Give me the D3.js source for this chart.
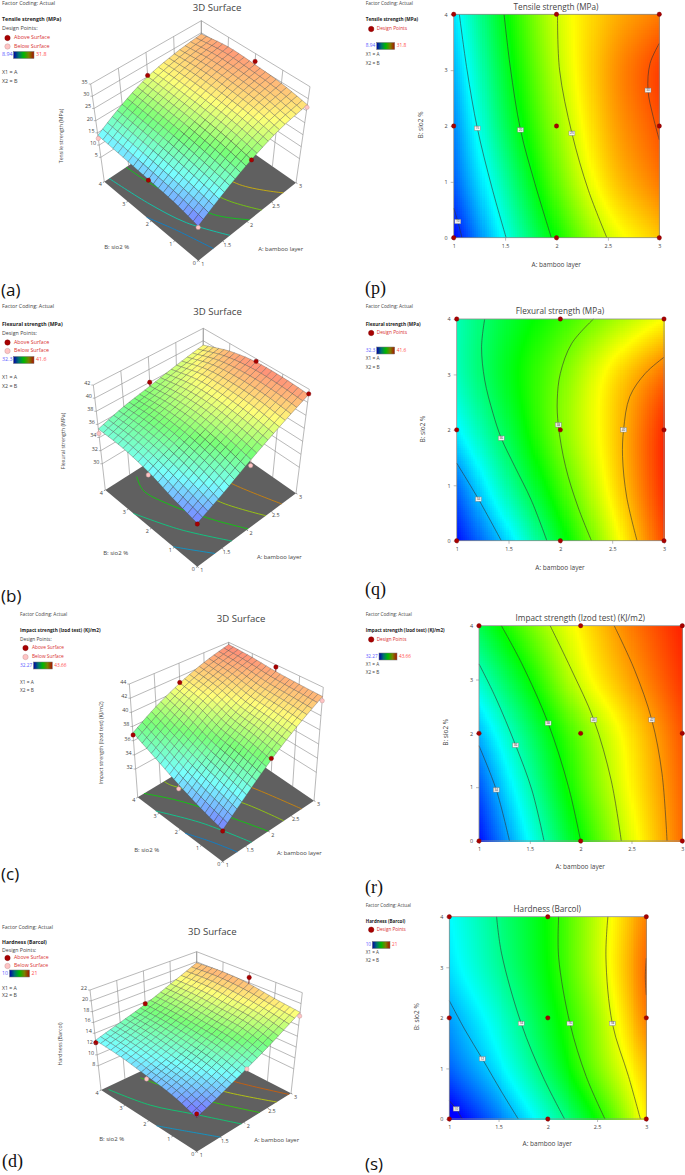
<!DOCTYPE html>
<html>
<head>
<meta charset="utf-8">
<script src="https://cdn.jsdelivr.net/npm/d3@7"></script>
<style>
  body { margin: 0; background: #fff; }
  svg { display: block; }
  text { font-family: "Open Sans", sans-serif; fill: #444; }
</style>
</head>
<body>
<svg id="fig" width="685" height="1175"></svg>
<script>
// factor levels of the response grids and the axis ticks
const aLevels = [1, 1.5, 2, 2.5, 3];
const bLevels = [0, 1, 2, 3, 4];
const aTicks = [1, 1.5, 2, 2.5, 3];
const bTicks = [0, 1, 2, 3, 4];
const designA = [1, 2, 3];
const designB = [0, 2, 4];

// response, one row per B level
const tensileValues = [
  [9, 15, 20.5, 25, 27.5],
  [11, 16.7, 22.5, 27, 29.5],
  [12, 18.3, 23.7, 28, 30.5],
  [13, 19.3, 24.5, 28.4, 31],
  [14, 20.1, 25, 27.8, 29.5]
];
const flexuralValues = [
  [32.4, 34.3, 36.6, 38.9, 41.2],
  [33.3, 35.5, 37.5, 39.5, 41.5],
  [34.5, 36.3, 38.1, 39.7, 41.5],
  [35.2, 36.7, 38, 39.5, 40.8],
  [35.3, 36.5, 37.4, 38.4, 39.3]
];
const impactValues = [
  [32.4, 35.2, 38, 40.5, 42.7],
  [33.2, 36, 38.7, 40.9, 42.8],
  [34.3, 36.8, 39.2, 41.2, 43],
  [35.7, 38, 40.4, 42, 43.4],
  [37.1, 39.2, 41, 42.5, 43.66]
];
const hardnessValues = [
  [9.6, 11.3, 13.3, 15.6, 18.4],
  [11, 12.5, 14.5, 16.8, 19],
  [11.7, 13.2, 15.1, 17.2, 19.8],
  [12.4, 13.85, 15.5, 17.6, 20.1],
  [12.7, 14.1, 15.6, 17.6, 19.8]
];

// contour lines of the 2D plots: level, [A, B] points, index of the point with the label
const tensileContours = [
  [10, [[1, .53], [1.04, .29], [1.08, 0]], 1],
  [15, [[1.055, 4], [1.13, 3], [1.23, 1.96], [1.37, .91], [1.51, 0]], 2],
  [20, [[1.49, 4], [1.55, 3.06], [1.65, 1.93], [1.79, .97], [1.95, 0]], 2],
  [25, [[2.01, 4], [2.03, 3], [2.15, 1.87], [2.31, .85], [2.49, 0]], 2],
  [30, [[3, 3.48], [2.91, 3.12], [2.89, 2.64], [2.94, 2.17], [3, 1.75]], 2]
];
const flexuralContours = [
  [34, [[1, 1.4], [1.21, .75], [1.43, 0]], 1],
  [36, [[1.27, 4], [1.24, 3.5], [1.27, 2.9], [1.35, 2.3], [1.43, 1.85], [1.56, 1.34], [1.72, .73], [1.87, 0]], 4],
  [38, [[2.32, 4], [2.11, 3.56], [2, 3.02], [1.97, 2.54], [1.98, 2.09], [2.05, 1.34], [2.17, .61], [2.3, 0]], 4],
  [40, [[3, 3.31], [2.82, 3.02], [2.67, 2.6], [2.61, 2], [2.6, 1.52], [2.64, .79], [2.74, 0]], 3]
];
const impactContours = [
  [34, [[1, 1.77], [1.17, .95], [1.3, 0]], 1],
  [36, [[1, 3.29], [1.16, 2.68], [1.36, 1.78], [1.52, .95], [1.64, 0]], 2],
  [38, [[1.22, 4], [1.42, 3.3], [1.68, 2.19], [1.88, 1.01], [2, 0]], 2],
  [40, [[1.7, 4], [1.91, 3.18], [2.13, 2.25], [2.3, 1.13], [2.4, 0]], 2],
  [42, [[2.33, 4], [2.53, 3.18], [2.7, 2.25], [2.8, 1.26], [2.85, 0]], 2]
];
const hardnessContours = [
  [10, [[1, .36], [1.07, .2], [1.13, 0]], 1],
  [12, [[1, 2.34], [1.16, 1.76], [1.335, 1.19], [1.53, .54], [1.7, 0]], 2],
  [14, [[1.48, 4], [1.53, 3.28], [1.73, 1.89], [1.95, .84], [2.17, 0]], 2],
  [16, [[2.11, 4], [2.11, 3.2], [2.225, 1.89], [2.39, .84], [2.58, 0]], 2],
  [18, [[2.61, 4], [2.59, 3.2], [2.655, 1.89], [2.82, .84], [2.94, 0]], 2],
  [20, [[3, 3.18], [2.99, 2.81], [3, 2.45]], -1]
];

// coloured contours on the floor of the 3D plots: level, [A, B] points
const tensileFloor = [
  [12.5, [[1, 2.2], [1.156, 1.25], [1.31, 0]]],
  [15.5, [[1.1, 4], [1.21, 2.49], [1.36, 1.25], [1.65, 0]]],
  [20, [[1.45, 4], [1.5, 3], [1.75, .92], [2.05, 0]]],
  [23.5, [[1.9, 3], [2.08, 1.03], [2.3, 0]]],
  [27, [[2.3, 3], [2.42, 1.19], [2.74, 0]]]
];
const flexuralFloor = [
  [34, [[1, 1.04], [1.17, .55], [1.36, 0]]],
  [35.5, [[1, 2.78], [1.3, 1.4], [1.7, 0]]],
  [37, [[1.55, 3.8], [1.43, 3.27], [1.51, 2.42], [1.79, 1], [2.03, 0]]],
  [38.7, [[2, 2.5], [2.12, 1.28], [2.39, 0]]],
  [40.3, [[2.4, 2.6], [2.51, 1.46], [2.71, 0]]]
];
const impactFloor = [
  [34, [[1, 1.77], [1.17, .95], [1.32, 0]]],
  [36, [[1, 3.15], [1.36, 1.75], [1.635, 0]]],
  [38, [[1.14, 4], [1.42, 3.1], [1.68, 1.9], [2, 0]]],
  [40, [[1.58, 4], [1.6, 3.73], [1.9, 2.6], [2.16, 1.53], [2.34, 0]]],
  [42, [[2.3, 3.2], [2.53, 1.76], [2.73, 0]]]
];
const hardnessFloor = [
  [12, [[1, 1.68], [1.24, .9], [1.5, 0]]],
  [14, [[1.1, 3.88], [1.3, 2.53], [1.62, 1.36], [1.95, 0]]],
  [16, [[1.7, 3.75], [1.85, 2.6], [2.05, 1.37], [2.34, 0]]],
  [18, [[2.2, 2.6], [2.38, 1.46], [2.7, 0]]],
  [20, [[2.55, 2.6], [2.68, 1.58], [2.96, 0]]]
];

// design points shown in the 3D plots: A, B, response, above the surface or not
const tensilePoints = [[2, 4, 25.5, 1], [3, 2, 31.8, 1], [3, 0, 26.4, 0], [1, 4, 12.7, 0], [2, 0, 20.4, 1], [1, 2, 11.7, 1], [1, 0, 8.5, 0]];
const flexuralPoints = [[2, 4, 38, 1], [3, 2, 41.6, 1], [3, 0, 41.3, 1], [1, 4, 34.6, 0], [1, 2, 34, 0], [2, 0, 35.7, 0], [1, 0, 32.3, 1]];
const impactPoints = [[2, 4, 41.1, 1], [3, 2, 43.66, 1], [3, 0, 42.1, 0], [1, 4, 36.8, 1], [1, 2, 33.7, 0], [2, 0, 38.2, 1], [1, 0, 32.27, 1]];
const hardnessPoints = [[2, 4, 15.7, 1], [3, 2, 21, 1], [3, 0, 17.7, 0], [1, 4, 12.25, 1], [1, 2, 11.1, 0], [2, 0, 13.2, 0], [1, 0, 10.25, 1]];

// z axis ticks of the 3D plots
const tensileZTicks = [5, 10, 15, 20, 25, 30, 35];
const flexuralZTicks = [30, 32, 34, 36, 38, 40, 42];
const impactZTicks = [32, 34, 36, 38, 40, 42, 44];
const hardnessZTicks = [8, 10, 12, 14, 16, 18, 20, 22];

const svg = d3.select("#fig");
const gradId = "legendRamp";

const rainbow = ["#0000ff", "#00ffff", "#00ff00", "#ffff00", "#ff2000"];

svg.append("defs").append("linearGradient").attr("id", gradId)
  .selectAll("stop")
  .data(["#0000a8", "#007070", "#00b800", "#7a8000", "#a81000"])
  .enter().append("stop")
  .attr("offset", (d, i) => i * 25 + "%")
  .attr("stop-color", d => d);

function colorFor(lo, hi) {
  let t = d3.scaleLinear().domain([lo, hi]).range([0, 4]).clamp(true);
  let c = d3.scaleLinear().domain([0, 1, 2, 3, 4]).range(rainbow).interpolate(d3.interpolateRgb);
  return v => c(t(v));
}

// smooth reading of the grid between its rows and columns
function catmull(p0, p1, p2, p3, t) {
  return 0.5 * (2 * p1 + (p2 - p0) * t + (2 * p0 - 5 * p1 + 4 * p2 - p3) * t * t + (3 * p1 - p0 - 3 * p2 + p3) * t * t * t);
}
function along(vals, x) {
  let n = vals.length;
  let i = Math.min(Math.floor(x), n - 2);
  let at = k => k < 0 ? 2 * vals[0] - vals[1] : (k >= n ? 2 * vals[n - 1] - vals[n - 2] : vals[k]);
  return catmull(at(i - 1), at(i), at(i + 1), at(i + 2), x - i);
}
function surfaceAt(grid, a, b) {
  let ax = d3.scaleLinear().domain(d3.extent(aLevels)).range([0, aLevels.length - 1])(a);
  let bx = d3.scaleLinear().domain(d3.extent(bLevels)).range([0, bLevels.length - 1])(b);
  return along(grid.map(row => along(row, ax)), bx);
}

function label(g, x, y, txt, size, opts) {
  opts = opts || {};
  let t = g.append("text")
    .attr("x", x).attr("y", y)
    .attr("font-size", size)
    .attr("dominant-baseline", "middle")
    .attr("text-anchor", opts.anchor || "start")
    .text(txt);
  if (opts.weight) t.attr("font-weight", opts.weight);
  if (opts.fill) t.style("fill", opts.fill);
  if (opts.rotate) t.attr("transform", "rotate(-90 " + x + " " + y + ")");
  if (opts.family) t.style("font-family", opts.family);
  return t;
}

function marker(g, x, y, above, r) {
  g.append("circle")
    .attr("cx", x).attr("cy", y).attr("r", r)
    .attr("fill", above ? "#a80000" : "#ffc4c4")
    .attr("stroke", above ? "#7a0000" : "#b89090")
    .attr("stroke-width", 0.4);
}

function drawLegend(g, c) {
  let l = c.legend;
  let fs = l.fs;
  label(g, l.x, l.y[0], "Factor Coding: Actual", fs);
  label(g, l.x, l.y[1], c.name, fs - 0.1, {weight: 700, fill: "#222"});
  if (c.is3d) {
    label(g, l.x, l.y[2], "Design Points:", fs);
    marker(g, l.x + 5.5, l.y[3], true, 2.7);
    label(g, l.x + 12, l.y[3], "Above Surface", fs, {fill: "#d83030"});
    marker(g, l.x + 5.5, l.y[4], false, 2.7);
    label(g, l.x + 12, l.y[4], "Below Surface", fs, {fill: "#d83030"});
  } else {
    marker(g, l.x + 5.5, l.y[2], true, 2.7);
    label(g, l.x + 11, l.y[2], "Design Points", fs, {fill: "#d83030"});
  }
  let barY = c.is3d ? l.y[5] : l.y[3];
  g.append("rect")
    .attr("x", l.barX).attr("y", barY - 3.5)
    .attr("width", l.barW).attr("height", 7)
    .attr("fill", "url(#" + gradId + ")")
    .attr("stroke", "#777").attr("stroke-width", 0.5);
  label(g, l.x, barY, c.lowText, fs, {fill: "#5a5aff"});
  label(g, l.barX + l.barW + 2, barY, c.highText, fs, {fill: "#ff4a4a"});
  let xY = c.is3d ? l.y.slice(6) : l.y.slice(4);
  label(g, l.x, xY[0], "X1 = A", fs);
  label(g, l.x, xY[1], "X2 = B", fs);
}

function drawSurface(c) {
  let g = svg.append("g").attr("class", "surface3d");
  let k = c.corners;
  let uA = d3.scaleLinear().domain(d3.extent(aTicks)).range([0, 1]);
  let uB = d3.scaleLinear().domain(d3.extent(bTicks)).range([0, 1]);
  let uZ = d3.scaleLinear().domain(c.zRange).range([0, 1]);

  // trilinear placement between the eight corners of the box
  let project = (a, b, z) => {
    let u = uA(a), v = uB(b), w = uZ(z);
    return [0, 1].map(i => {
      let floor = (1 - u) * ((1 - v) * k.floorFront[i] + v * k.floorLeft[i]) + u * ((1 - v) * k.floorRight[i] + v * k.floorBack[i]);
      let top = (1 - u) * ((1 - v) * k.topFront[i] + v * k.topLeft[i]) + u * ((1 - v) * k.topRight[i] + v * k.topBack[i]);
      return floor * (1 - w) + top * w;
    });
  };
  let line = d3.line();
  let zLo = c.zRange[0], zHi = c.zRange[1];

  // back walls
  let walls = [];
  c.zTicks.forEach(z => walls.push([project(1, 4, z), project(3, 4, z), project(3, 0, z)]));
  aTicks.forEach(a => walls.push([project(a, 4, zLo), project(a, 4, zHi)]));
  bTicks.forEach(b => walls.push([project(3, b, zLo), project(3, b, zHi)]));
  g.selectAll("path.wall").data(walls).enter().append("path")
    .attr("class", "wall").attr("d", line)
    .attr("fill", "none").attr("stroke", "#8a8a8a").attr("stroke-width", 0.6);

  // floor
  g.append("path")
    .attr("d", line([project(1, 0, zLo), project(3, 0, zLo), project(3, 4, zLo), project(1, 4, zLo)]) + "Z")
    .attr("fill", "#606060");

  let col = colorFor(c.lo, c.hi);
  let floorLine = d3.line().curve(d3.curveCatmullRom);
  g.selectAll("path.floorLine").data(c.floor).enter().append("path")
    .attr("class", "floorLine")
    .attr("d", d => floorLine(d[1].map(p => project(p[0], p[1], zLo))))
    .attr("fill", "none")
    .attr("stroke", d => d3.color(col(d[0])).darker(0.45))
    .attr("stroke-width", 0.8);

  // mesh, back cells first
  let steps = d3.range(21);
  let sa = d3.scaleLinear().domain([0, 20]).range(d3.extent(aTicks));
  let sb = d3.scaleLinear().domain([0, 20]).range(d3.extent(bTicks));
  let cells = [];
  steps.slice(0, 20).forEach(i => steps.slice(0, 20).forEach(j => cells.push([i, j])));
  cells.sort((p, q) => (q[0] + q[1]) - (p[0] + p[1]));
  let corner = (i, j) => project(sa(i), sb(j), surfaceAt(c.values, sa(i), sb(j)));
  g.selectAll("path.cell").data(cells).enter().append("path")
    .attr("class", "cell")
    .attr("d", d => line([corner(d[0], d[1]), corner(d[0] + 1, d[1]), corner(d[0] + 1, d[1] + 1), corner(d[0], d[1] + 1)]) + "Z")
    .attr("fill", d => d3.interpolateRgb(col(surfaceAt(c.values, sa(d[0] + .5), sb(d[1] + .5))), "#ffffff")(0.47))
    .attr("stroke", "#3c3c3c")
    .attr("stroke-opacity", 0.6)
    .attr("stroke-width", 0.5);

  // design points with their stems
  c.points.forEach(p => {
    let at = project(p[0], p[1], p[2]);
    let on = project(p[0], p[1], surfaceAt(c.values, p[0], p[1]));
    g.append("path").attr("d", line([at, on]))
      .attr("stroke", p[3] ? "#7a0000" : "#d8a0a0").attr("stroke-width", 0.6);
    marker(g, at[0], at[1], p[3], 2.2);
  });

  // ticks and tick labels
  c.zTicks.forEach(z => {
    let p = project(1, 4, z);
    g.append("path").attr("d", line([[p[0] - 2, p[1]], p])).attr("stroke", "#777").attr("stroke-width", 0.5);
    label(g, p[0] - 3, p[1] - 1.5, z, 5.4, {anchor: "end"});
  });
  bTicks.forEach(b => {
    let p = project(1, b, zLo);
    label(g, p[0] - 4, p[1] + 3.3, b, 5.4, {anchor: "middle"});
    g.append("path").attr("d", line([[p[0] - 1.4, p[1] + .8], p])).attr("stroke", "#333").attr("stroke-width", 0.5);
  });
  aTicks.forEach(a => {
    let p = project(a, 0, zLo);
    label(g, p[0] + 4.5, p[1] + 4, a, 5.4, {anchor: "middle"});
    g.append("path").attr("d", line([[p[0] + 1.4, p[1] + .8], p])).attr("stroke", "#333").attr("stroke-width", 0.5);
  });

  label(g, c.title[0], c.title[1], "3D Surface", 9.6, {anchor: "middle"});
  label(g, c.zLabel[0], c.zLabel[1], c.name, 5.25, {anchor: "middle", rotate: true});
  label(g, c.bLabel[0], c.bLabel[1], "B: sio2 %", 6, {anchor: "middle"});
  label(g, c.aLabel[0], c.aLabel[1], "A: bamboo layer", 5.9, {anchor: "middle"});
  drawLegend(g, c);
}

function drawContour(c) {
  let g = svg.append("g").attr("class", "contour2d");
  let x = d3.scaleLinear().domain(d3.extent(aTicks)).range(c.xRange);
  let y = d3.scaleLinear().domain(d3.extent(bTicks)).range(c.yRange);
  let col = colorFor(c.lo, c.hi);

  // heat map cells
  let n = 100;
  let cx = d3.scaleLinear().domain([0, n]).range(d3.extent(aTicks));
  let cy = d3.scaleLinear().domain([0, n]).range(d3.extent(bTicks));
  let cells = d3.cross(d3.range(n), d3.range(n));
  g.selectAll("rect.cell").data(cells).enter().append("rect")
    .attr("class", "cell")
    .attr("x", d => x(cx(d[0])))
    .attr("y", d => y(cy(d[1] + 1)))
    .attr("width", d => x(cx(d[0] + 1)) - x(cx(d[0])) + .5)
    .attr("height", d => y(cy(d[1])) - y(cy(d[1] + 1)) + .5)
    .attr("fill", d => col(surfaceAt(c.values, cx(d[0] + .5), cy(d[1] + .5))))
    .attr("shape-rendering", "crispEdges");

  let contourLine = d3.line().x(d => x(d[0])).y(d => y(d[1])).curve(d3.curveCatmullRom);
  g.selectAll("path.level").data(c.contours).enter().append("path")
    .attr("class", "level")
    .attr("d", d => contourLine(d[1]))
    .attr("fill", "none").attr("stroke", "#333").attr("stroke-width", 0.6);

  g.append("rect")
    .attr("x", c.xRange[0]).attr("y", c.yRange[1])
    .attr("width", c.xRange[1] - c.xRange[0]).attr("height", c.yRange[0] - c.yRange[1])
    .attr("fill", "none").attr("stroke", "#8c8c8c").attr("stroke-width", 0.8);

  let xAxis = d3.axisBottom(x).tickValues(aTicks).tickSize(3).tickFormat(d3.format(""));
  let yAxis = d3.axisLeft(y).tickValues(bTicks).tickSize(3).tickFormat(d3.format(""));
  let ax = g.append("g").attr("transform", "translate(0," + c.yRange[0] + ")").call(xAxis);
  let ay = g.append("g").attr("transform", "translate(" + c.xRange[0] + ",0)").call(yAxis);
  [ax, ay].forEach(s => {
    s.select(".domain").remove();
    s.selectAll("line").attr("stroke", "#777").attr("stroke-width", 0.5);
    s.selectAll("text").attr("font-size", 5.4).attr("font-family", null);
  });

  // value tags on the contours
  c.contours.filter(d => d[2] >= 0).forEach(d => {
    let p = d[1][d[2]];
    let tag = g.append("g").attr("transform", "translate(" + x(p[0]) + "," + y(p[1]) + ")");
    tag.append("rect").attr("x", -3).attr("y", -2.2).attr("width", 6).attr("height", 4.4)
      .attr("fill", "#f2f2f2").attr("stroke", "#777").attr("stroke-width", 0.4);
    label(tag, 0, 0.1, d[0], 3.2, {anchor: "middle", fill: "#333"});
  });

  // design points
  let pts = d3.cross(designA, designB);
  pts.forEach(p => marker(g, x(p[0]), y(p[1]), true, 2.2));

  label(g, c.title[0], c.title[1], c.name, 8.2, {anchor: "middle"});
  label(g, c.aLabel[0], c.aLabel[1], "A: bamboo layer", 6.5, {anchor: "middle"});
  label(g, c.bLabel[0], c.bLabel[1], "B: sio2 %", 6.5, {anchor: "middle", rotate: true});
  drawLegend(g, c);
}

const panels3d = [
  {name: "Tensile strength (MPa)", is3d: true, lo: 8.94, hi: 31.8, lowText: "8.94", highText: "31.8",
   values: tensileValues, floor: tensileFloor, points: tensilePoints, zTicks: tensileZTicks, zRange: [-5, 35],
   corners: {floorFront: [198.3, 260.7], floorRight: [296, 182.7], floorLeft: [104.3, 181.7], floorBack: [201.5, 117],
             topFront: [198, 162], topRight: [310, 86.7], topLeft: [90.7, 84], topBack: [201.3, 20.7]},
   title: [217, 8], zLabel: [61.7, 136], bLabel: [116.7, 247], aLabel: [280.7, 249],
   legend: {x: 2, fs: 5.4, barX: 13.5, barW: 20.5, y: [3.6, 20, 29, 38, 46.5, 55, 73, 82]}},
  {name: "Flexural strength (MPa)", is3d: true, lo: 32.3, hi: 41.6, lowText: "32.3", highText: "41.6",
   values: flexuralValues, floor: flexuralFloor, points: flexuralPoints, zTicks: flexuralZTicks, zRange: [26, 42],
   corners: {floorFront: [197.3, 566.7], floorRight: [296, 493.3], floorLeft: [105.3, 490], floorBack: [202.7, 428],
             topFront: [197.3, 458.3], topRight: [309.3, 389.3], topLeft: [93.3, 385], topBack: [203.3, 328.3]},
   title: [217.5, 312], zLabel: [63.3, 441], bLabel: [115.7, 553.3], aLabel: [279.3, 557],
   legend: {x: 2, fs: 5.3, barX: 13.5, barW: 20.5, y: [307, 325, 334, 342.5, 351, 360, 378, 387]}},
  {name: "Impact strength (Izod test) (KJ/m2)", is3d: true, lo: 32.27, hi: 43.66, lowText: "32.27", highText: "43.66",
   values: impactValues, floor: impactFloor, points: impactPoints, zTicks: impactZTicks, zRange: [28, 44],
   corners: {floorFront: [222.7, 861.7], floorRight: [314, 800.7], floorLeft: [137.7, 797.3], floorBack: [228.7, 742.5],
             topFront: [222.7, 746.7], topRight: [323.3, 687.3], topLeft: [129.3, 684], topBack: [228.7, 642.3]},
   title: [241, 619.3], zLabel: [101.7, 743], bLabel: [146.7, 850], aLabel: [299.3, 853.7],
   legend: {x: 20, fs: 4.8, barX: 33.5, barW: 18.8, y: [614.7, 631, 640, 648, 657, 665.5, 682.5, 691]}},
  {name: "Hardness (Barcol)", is3d: true, lo: 10, hi: 21, lowText: "10", highText: "21",
   values: hardnessValues, floor: hardnessFloor, points: hardnessPoints, zTicks: hardnessZTicks, zRange: [3.5, 22],
   corners: {floorFront: [196.7, 1151.7], floorRight: [291, 1093.3], floorLeft: [101, 1090], floorBack: [196.7, 1045],
             topFront: [196.7, 1048.3], topRight: [302.3, 992.7], topLeft: [90, 990], topBack: [196.7, 951.7]},
   title: [212.3, 932], zLabel: [60.7, 1044], bLabel: [111.7, 1139], aLabel: [276.7, 1140.3],
   legend: {x: 2, fs: 5.2, barX: 9.5, barW: 20, y: [928, 943, 951, 958, 966, 973.5, 988.5, 996]}}
];

const panels2d = [
  {name: "Tensile strength (MPa)", lo: 8.94, hi: 31.8, lowText: "8.94", highText: "31.8",
   values: tensileValues, contours: tensileContours,
   xRange: [453.7, 659.3], yRange: [237.7, 14.3],
   title: [556, 7.5], aLabel: [556.3, 265.3], bLabel: [421, 125],
   legend: {x: 365.7, fs: 4.8, barX: 376.7, barW: 18, y: [3.6, 20, 29, 46, 55, 63.5]}},
  {name: "Flexural strength (MPa)", lo: 32.3, hi: 41.6, lowText: "32.3", highText: "41.6",
   values: flexuralValues, contours: flexuralContours,
   xRange: [456.7, 664], yRange: [540.7, 319],
   title: [560, 312], aLabel: [560, 568.3], bLabel: [423.7, 429],
   legend: {x: 365.7, fs: 4.8, barX: 376.7, barW: 18, y: [307, 324.5, 333, 350.5, 359, 367.5]}},
  {name: "Impact strength (Izod test) (KJ/m2)", lo: 32.27, hi: 43.66, lowText: "32.27", highText: "43.66",
   values: impactValues, contours: impactContours,
   xRange: [479, 682.3], yRange: [841, 625.7],
   title: [580.3, 619], aLabel: [580.3, 867.7], bLabel: [446, 732.3],
   legend: {x: 365.7, fs: 4.7, barX: 379, barW: 18, y: [614.5, 631, 639.5, 656.5, 665, 673]}},
  {name: "Hardness (Barcol)", lo: 10, hi: 21, lowText: "10", highText: "21",
   values: hardnessValues, contours: hardnessContours,
   xRange: [449.3, 646.3], yRange: [1119, 916.7],
   title: [547.3, 910], aLabel: [547.3, 1144], bLabel: [417, 1016.7],
   legend: {x: 365.7, fs: 4.6, barX: 372.3, barW: 17.7, y: [906, 921.7, 929.7, 945, 953, 961]}}
];

panels3d.forEach(drawSurface);
panels2d.forEach(drawContour);

// panel letters
const letters = [
  ["(a)", 1, 291, 17, "Open Sans"], ["(b)", 1, 597, 17, "Open Sans"], ["(c)", 1, 875, 17, "Open Sans"], ["(d)", 2, 1163, 18, "Liberation Serif"],
  ["(p)", 365, 290, 18, "Liberation Serif"], ["(q)", 365, 591, 18, "Liberation Serif"], ["(r)", 365, 889, 18, "Liberation Serif"], ["(s)", 365, 1165, 17, "Open Sans"]
];
letters.forEach(d => {
  label(svg, d[1], d[2], d[0], d[3], {fill: "#111", family: d[4]});
});
</script>
</body>
</html>
